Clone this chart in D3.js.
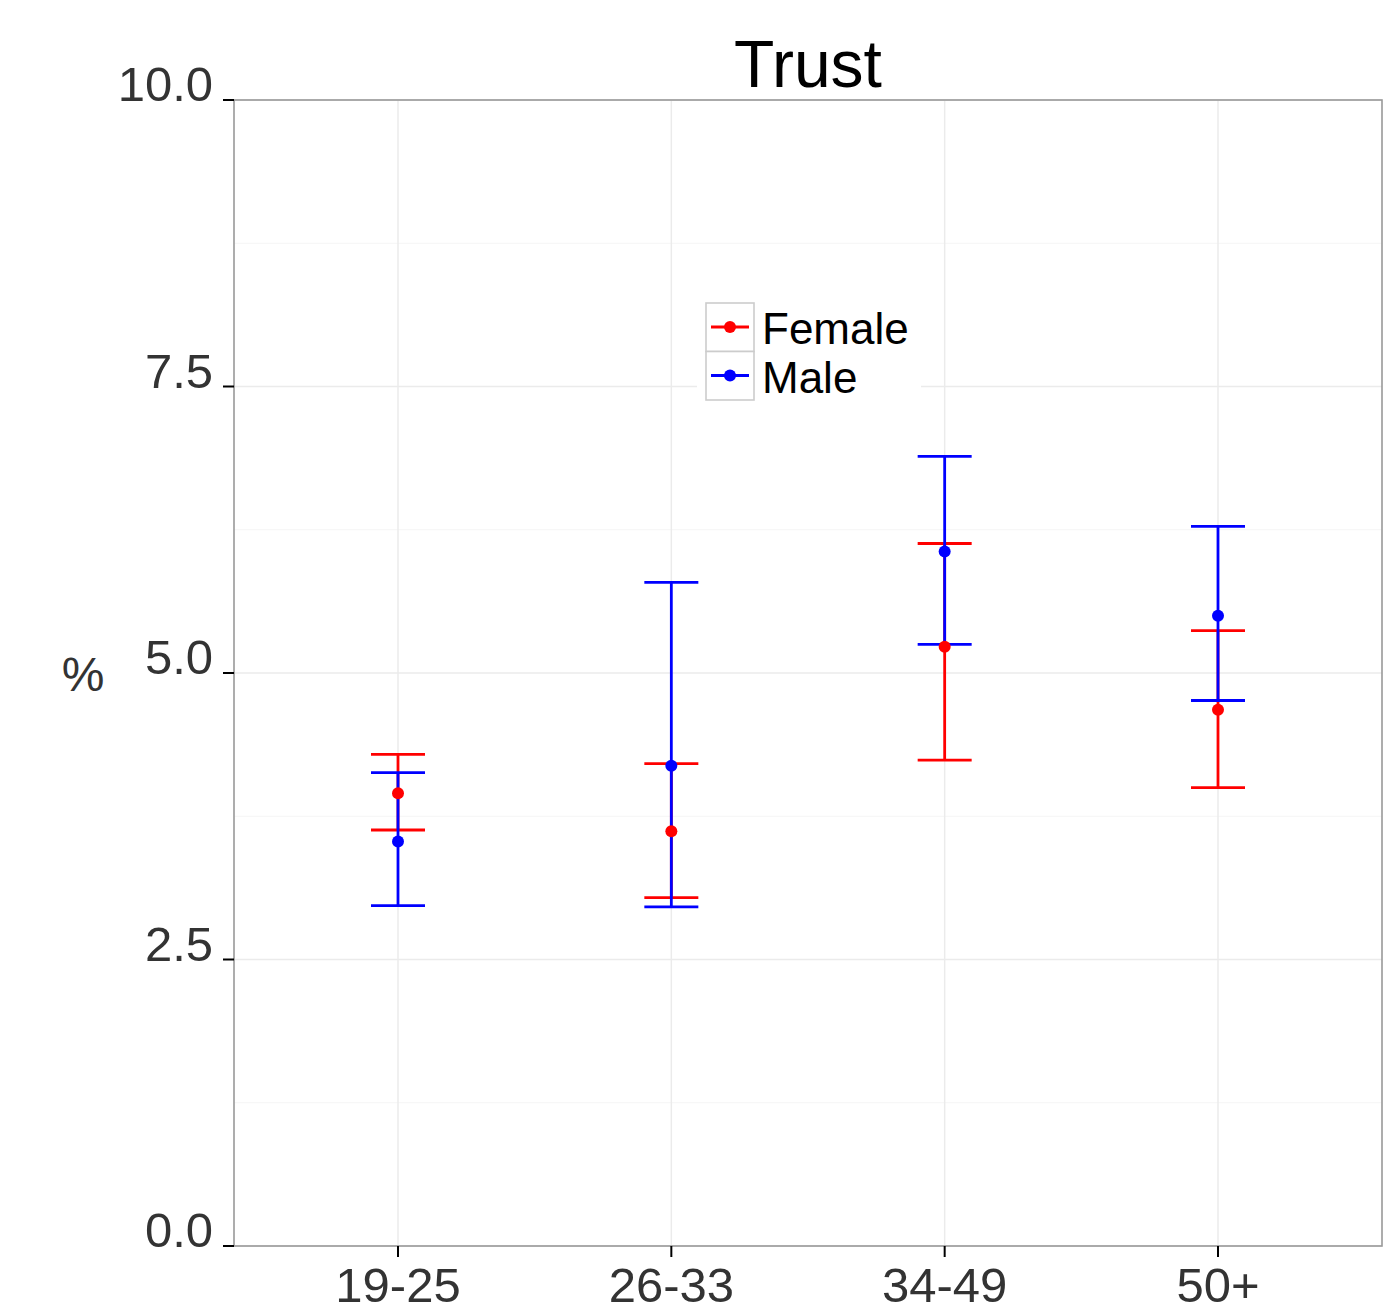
<!DOCTYPE html>
<html><head><meta charset="utf-8">
<script src="https://cdn.jsdelivr.net/npm/d3@7"></script>
<style>body{margin:0;background:#fff}svg{display:block}text{font-family:"Liberation Sans",Arial,sans-serif}</style>
</head><body>
<svg id="chart" width="1397" height="1305"></svg>
<script>
const categories = ["19-25","26-33","34-49","50+"];
const seriesNames = ["Female","Male"];
const seriesColors = ["#ff0000","#0000ff"];
const femaleMean = [3.95, 3.62, 5.23, 4.68];
const femaleLow  = [3.63, 3.04, 4.24, 4.00];
const femaleHigh = [4.29, 4.21, 6.13, 5.37];
const maleMean = [3.53, 4.19, 6.06, 5.50];
const maleLow  = [2.97, 2.96, 5.25, 4.76];
const maleHigh = [4.13, 5.79, 6.89, 6.28];
const yTicks = [0, 2.5, 5, 7.5, 10];
const yMinor = [1.25, 3.75, 6.25, 8.75];

const svg = d3.select("#chart");
const L = 234, R = 1382, T = 100, B = 1246;
const x = d3.scalePoint().domain(categories).range([L, R]).padding(0.6);
const y = d3.scaleLinear().domain([0, 10]).range([B, T]);

const series = [
  {name: seriesNames[0], color: seriesColors[0], mean: femaleMean, low: femaleLow, high: femaleHigh},
  {name: seriesNames[1], color: seriesColors[1], mean: maleMean, low: maleLow, high: maleHigh}
];

// grid
const g = svg.append("g");
g.selectAll(".minor").data(yMinor).join("line")
  .attr("x1", L).attr("x2", R).attr("y1", d => y(d)).attr("y2", d => y(d))
  .attr("stroke", "#f5f5f5").attr("stroke-width", 1.2);
g.selectAll(".major").data(yTicks).join("line")
  .attr("x1", L).attr("x2", R).attr("y1", d => y(d)).attr("y2", d => y(d))
  .attr("stroke", "#ebebeb").attr("stroke-width", 1.5);
g.selectAll(".vmajor").data(categories).join("line")
  .attr("x1", d => x(d)).attr("x2", d => x(d)).attr("y1", T).attr("y2", B)
  .attr("stroke", "#ebebeb").attr("stroke-width", 1.5);

// error bars
const capW = 27;
series.forEach(s => {
  const eg = svg.append("g");
  categories.forEach((c, i) => {
    const cx = x(c);
    eg.append("line").attr("x1", cx).attr("x2", cx).attr("y1", y(s.low[i])).attr("y2", y(s.high[i]))
      .attr("stroke", s.color).attr("stroke-width", 2.8);
    [s.low[i], s.high[i]].forEach(v => {
      eg.append("line").attr("x1", cx - capW).attr("x2", cx + capW).attr("y1", y(v)).attr("y2", y(v))
        .attr("stroke", s.color).attr("stroke-width", 2.8);
    });
  });
});
series.forEach(s => {
  svg.append("g").selectAll("circle").data(categories).join("circle")
    .attr("cx", d => x(d)).attr("cy", (d, i) => y(s.mean[i])).attr("r", 6).attr("fill", s.color);
});

// panel border
svg.append("rect").attr("x", L).attr("y", T).attr("width", R - L).attr("height", B - T)
  .attr("fill", "none").attr("stroke", "#999").attr("stroke-width", 1.6);

// y axis ticks and labels
const ya = svg.append("g");
ya.selectAll("line").data(yTicks).join("line")
  .attr("x1", L - 11).attr("x2", L).attr("y1", d => y(d)).attr("y2", d => y(d))
  .attr("stroke", "#000").attr("stroke-width", 2);
ya.selectAll("text").data(yTicks).join("text")
  .attr("x", 213).attr("y", d => y(d) + 1).attr("text-anchor", "end")
  .attr("font-size", 49).attr("fill", "#333")
  .text(d => d3.format(".1f")(d));

// x axis
const xa = svg.append("g");
xa.selectAll("line").data(categories).join("line")
  .attr("x1", d => x(d)).attr("x2", d => x(d)).attr("y1", B).attr("y2", B + 11)
  .attr("stroke", "#000").attr("stroke-width", 2);
xa.selectAll("text").data(categories).join("text")
  .attr("x", d => x(d)).attr("y", 1302).attr("text-anchor", "middle")
  .attr("font-size", 49).attr("fill", "#333").text(d => d);

// y label
svg.append("text").attr("x", 83).attr("y", 691).attr("text-anchor", "middle")
  .attr("font-size", 48).attr("fill", "#333").text("%");

// title
svg.append("text").attr("x", (L + R) / 2).attr("y", 87).attr("text-anchor", "middle")
  .attr("font-size", 66).attr("fill", "#000").text("Trust");

// legend
const lg = svg.append("g");
lg.append("rect").attr("x", 697).attr("y", 294).attr("width", 224).attr("height", 114).attr("fill", "#fff");
series.forEach((s, i) => {
  const ky = 303 + i * 48.5;
  lg.append("rect").attr("x", 706).attr("y", ky).attr("width", 48).attr("height", 48.5)
    .attr("fill", "#fff").attr("stroke", "#ccc").attr("stroke-width", 1.6);
  lg.append("line").attr("x1", 711).attr("x2", 749).attr("y1", ky + 24).attr("y2", ky + 24)
    .attr("stroke", s.color).attr("stroke-width", 2.8);
  lg.append("circle").attr("cx", 730).attr("cy", ky + 24).attr("r", 6).attr("fill", s.color);
  lg.append("text").attr("x", 762).attr("y", ky + 41).attr("font-size", 44).attr("fill", "#000").text(s.name);
});
</script>
</body></html>
